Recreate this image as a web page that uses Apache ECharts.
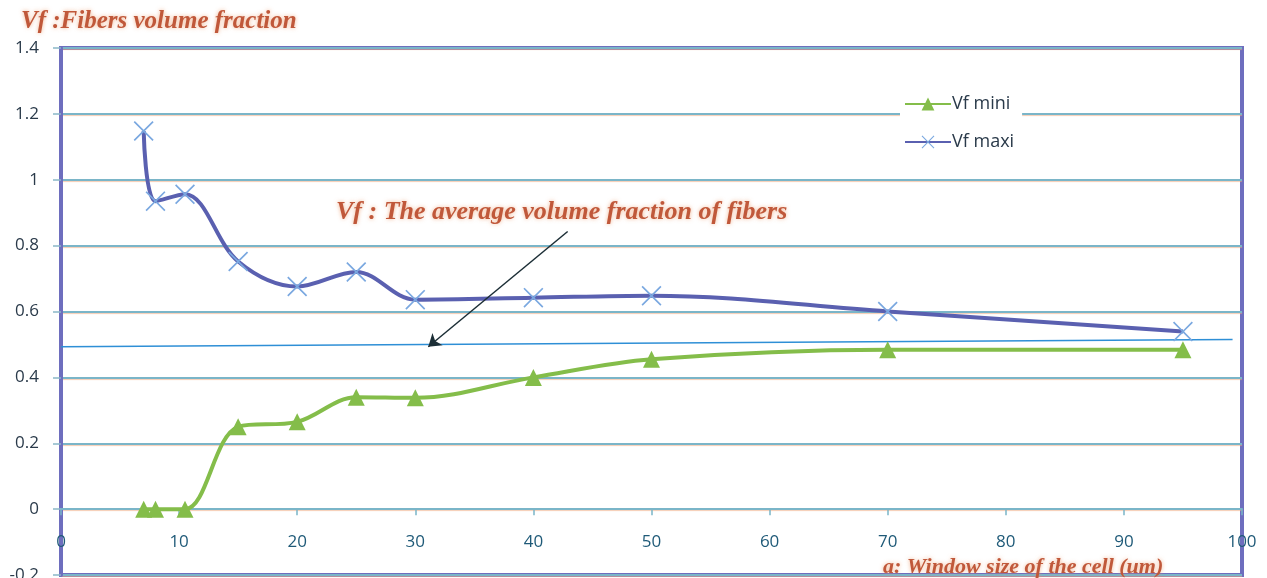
<!DOCTYPE html>
<html>
<head>
<meta charset="utf-8">
<script src="https://cdn.jsdelivr.net/npm/echarts@6/dist/echarts.min.js"></script>
<style>
html,body{margin:0;padding:0;background:#fff;}
#chart{width:1267px;height:578px;}
</style>
</head>
<body>
<div id="chart"></div>
<script>
// Data
const windowSize = [7, 8, 10.5, 15, 20, 25, 30, 40, 50, 70, 95];
const vfMini = [0, 0, 0, 0.25, 0.265, 0.34, 0.338, 0.40, 0.455, 0.484, 0.484];
const vfMaxi = [1.148, 0.935, 0.956, 0.752, 0.676, 0.72, 0.636, 0.642, 0.648, 0.60, 0.539];
const avgX = [0, 99.2];
const avgY = [0.493, 0.515];
const arrowFrom = [42.9, 0.843];
const arrowTo = [31.1, 0.493];
const yTicks = {min: -0.2, max: 1.4, interval: 0.2};
const xTicks = {min: 0, max: 100, interval: 10};

const pairs = (xs, ys) => xs.map((x, i) => [x, ys[i]]);
const xSymbol = 'path://M0,1.2L1.2,0L10,8.8L18.8,0L20,1.2L11.2,10L20,18.8L18.8,20L10,11.2L1.2,20L0,18.8L8.8,10Z';

const titleColor = '#c0583a';
const titleShadow = {textShadowColor: 'rgba(235,150,100,0.7)', textShadowBlur: 4};
const serif = {fontFamily: 'Liberation Serif', fontStyle: 'italic', fontWeight: 'bold', color: titleColor};

const chart = echarts.init(document.getElementById('chart'));
chart.setOption({
  animation: false,
  backgroundColor: '#fff',
  title: [
    {text: 'Vf :Fibers volume fraction', left: 16, top: 4,
     textStyle: Object.assign({fontSize: 25}, serif, titleShadow)},
    {text: 'Vf : The average volume fraction of fibers', left: 331, top: 194,
     textStyle: Object.assign({fontSize: 26}, serif, titleShadow)},
    {text: 'a: Window size of the cell (um)', left: 878, top: 551,
     textStyle: Object.assign({fontSize: 22}, serif, titleShadow)}
  ],
  legend: {
    data: ['Vf mini', 'Vf maxi'],
    orient: 'vertical',
    left: 900, top: 91,
    itemWidth: 46, itemHeight: 16, itemGap: 20,
    backgroundColor: '#fff',
    padding: [4, 8, 4, 4],
    textStyle: {fontFamily: 'Open Sans', fontSize: 18, color: '#2a3a4a', padding: [0, 0, 0, -4]}
  },
  grid: {left: 61, top: 48, right: 25, bottom: 3, show: true, borderColor: '#6e6ebe', borderWidth: 4,
         backgroundColor: 'transparent', containLabel: false, outerBoundsMode: 'none'},
  xAxis: {
    type: 'value', min: xTicks.min, max: xTicks.max, interval: xTicks.interval,
    axisLine: {show: true, onZero: true, lineStyle: {color: '#7ab5c8', width: 2}},
    axisTick: {show: true, length: 6, lineStyle: {color: '#7ab5c8', width: 1.5}},
    axisLabel: {margin: -41, fontFamily: 'Open Sans', fontSize: 17, color: '#1f5a78'},
    splitLine: {show: false}
  },
  yAxis: {
    type: 'value', min: yTicks.min, max: yTicks.max, interval: yTicks.interval,
    axisLine: {show: true, lineStyle: {color: '#6e6ebe', width: 4}},
    axisTick: {show: true, length: 8, lineStyle: {color: '#8ab8c8', width: 1.5}},
    axisLabel: {margin: 22, fontFamily: 'Open Sans', fontSize: 17, color: '#2a3a4a',
      formatter: v => String(+v.toFixed(1))},
    splitLine: {show: true, lineStyle: {color: '#7ab5c8', width: 2, shadowColor: 'rgba(240,170,130,0.6)', shadowOffsetY: 1, shadowBlur: 1}}
  },
  series: [
    {
      name: 'Average', type: 'line', data: pairs(avgX, avgY), symbol: 'none', z: 1,
      lineStyle: {color: '#2e8fd6', width: 1.3},
      silent: true,
      markLine: {
        silent: true, symbol: ['none', 'arrow'], symbolSize: 12,
        label: {show: false},
        lineStyle: {color: '#1c2e36', width: 1.5, type: 'solid'},
        data: [[{coord: arrowFrom}, {coord: arrowTo}]]
      }
    },
    {
      name: 'Vf mini', type: 'line', data: pairs(windowSize, vfMini), smooth: 0.35,
      symbol: 'triangle', symbolSize: 17, z: 3,
      lineStyle: {color: '#84bd4a', width: 4},
      itemStyle: {color: '#84bd4a'}
    },
    {
      name: 'Vf maxi', type: 'line', data: pairs(windowSize, vfMaxi), smooth: 0.35,
      symbol: xSymbol, symbolSize: 20, z: 4,
      lineStyle: {color: '#5a60b0', width: 4},
      itemStyle: {color: '#7aa8e0'}
    }
  ]
});
</script>
</body>
</html>
